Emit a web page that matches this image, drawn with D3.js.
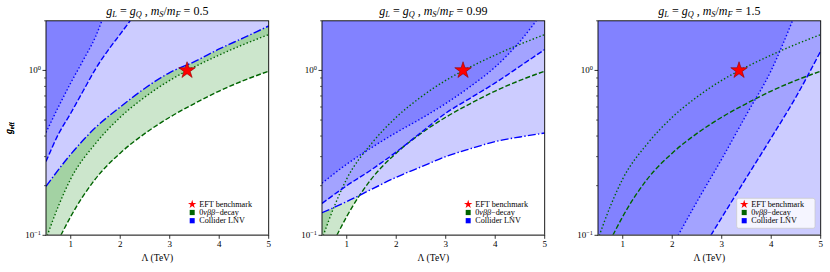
<!DOCTYPE html>
<html>
<head>
<meta charset="utf-8">
<script src="https://cdn.jsdelivr.net/npm/d3@7"></script>
<style>
  body { margin: 0; background: #fff; }
  svg text { font-family: "Liberation Serif", "DejaVu Serif", serif; fill: #000; }
</style>
</head>
<body>
<div id="fig"></div>
<script>
// ---- data ----
var massRatios = ["0.5", "0.99", "1.5"];
var xTickValues = [1, 2, 3, 4, 5];
var yMajorTicks = [0.1, 1];
var yMinorTicks = [0.2, 0.3, 0.4, 0.5, 0.6, 0.7, 0.8, 0.9, 2];
var benchmark = { lam: 3.35, g: 1.0 };

// 0vbb curves (same in all panels)
var dbdDottedLam = [0.5, 0.75, 1, 1.5, 2, 2.5, 3, 3.5, 4, 4.5, 5];
var dbdDottedG   = [0.095, 0.15, 0.22, 0.36, 0.52, 0.69, 0.87, 1.05, 1.24, 1.44, 1.65];
var dbdDashedLam = [0.8, 1, 1.5, 2, 2.5, 3, 3.5, 4, 4.5, 5];
var dbdDashedG   = [0.1, 0.13, 0.22, 0.315, 0.415, 0.52, 0.63, 0.75, 0.87, 0.99];

// collider curves, m_S/m_F = 0.5
var p1DottedLam  = [0.5, 0.75, 1, 1.25, 1.5, 1.63];
var p1DottedG    = [0.42, 0.6, 0.84, 1.15, 1.6, 2.0];
var p1DashedLam  = [0.5, 0.75, 1, 1.25, 1.5, 1.75, 2, 2.2];
var p1DashedG    = [0.28, 0.41, 0.55, 0.75, 1.02, 1.32, 1.66, 2.0];
var p1DashDotLam = [0.5, 1, 1.5, 2, 2.5, 3, 3.5, 4, 4.5, 5];
var p1DashDotG   = [0.198, 0.31, 0.45, 0.6, 0.78, 0.97, 1.13, 1.35, 1.58, 1.86];

// m_S/m_F = 0.99
var p2DottedLam  = [0.5, 1, 1.5, 2, 2.5, 3, 3.5, 4, 4.5, 4.83];
var p2DottedG    = [0.207, 0.27, 0.34, 0.42, 0.51, 0.63, 0.8, 1.05, 1.5, 2.0];
var p2DashedLam  = [0.5, 1, 1.5, 2, 2.5, 3, 3.5, 4, 4.5, 5];
var p2DashedG    = [0.156, 0.2, 0.25, 0.32, 0.42, 0.55, 0.68, 0.84, 1.06, 1.34];
var p2DashDotLam = [0.5, 1, 1.5, 2, 2.5, 3, 3.5, 4, 4.5, 5];
var p2DashDotG   = [0.137, 0.16, 0.19, 0.225, 0.26, 0.3, 0.335, 0.37, 0.395, 0.417];

// m_S/m_F = 1.5 (dash-dot lies below the plotted range)
var p3DottedLam  = [2.12, 2.5, 3, 3.5, 4, 4.43];
var p3DottedG    = [0.1, 0.16, 0.29, 0.54, 1.0, 2.0];
var p3DashedLam  = [2.78, 3, 3.5, 4, 4.5, 5];
var p3DashedG    = [0.1, 0.128, 0.224, 0.39, 0.69, 1.31];
var p3DashDotLam = [];
var p3DashDotG   = [];

var legendLabels = ["EFT benchmark", "0\u03bd\u03b2\u03b2\u2212decay", "Collider LNV"];

function zip(lam, g) { return lam.map(function (d, i) { return { lam: d, g: g[i] }; }); }

var panels = [
  { ratio: massRatios[0], dotted: zip(p1DottedLam, p1DottedG), dashed: zip(p1DashedLam, p1DashedG), dashdot: zip(p1DashDotLam, p1DashDotG), frame: false },
  { ratio: massRatios[1], dotted: zip(p2DottedLam, p2DottedG), dashed: zip(p2DashedLam, p2DashedG), dashdot: zip(p2DashDotLam, p2DashDotG), frame: false },
  { ratio: massRatios[2], dotted: zip(p3DottedLam, p3DottedG), dashed: zip(p3DashedLam, p3DashedG), dashdot: zip(p3DashDotLam, p3DashDotG), frame: true }
];
var dbdDotted = zip(dbdDottedLam, dbdDottedG);
var dbdDashed = zip(dbdDashedLam, dbdDashedG);

// ---- layout ----
var W = 830, H = 272;
var lefts = [46, 322, 598];
var pw = 222.7, plotTop = 20.8, plotBottom = 235.3;

var svg = d3.select("#fig").append("svg")
  .attr("width", W)
  .attr("height", H);

var blue = "#0000ff", green = "#006400";

panels.forEach(function (p, i) {

  var h = plotBottom - plotTop;
  var x = d3.scaleLinear().domain([0.5, 5]).range([0, pw]);
  var y = d3.scaleLog().domain([0.1, 2]).range([h, 0]);

  var g = svg.append("g").attr("transform", "translate(" + lefts[i] + "," + plotTop + ")");

  g.append("clipPath").attr("id", "clip" + i)
    .append("rect").attr("width", pw).attr("height", h);

  var plot = g.append("g").attr("clip-path", "url(#clip" + i + ")");

  var line = d3.line()
    .x(function (d) { return x(d.lam); })
    .y(function (d) { return y(d.g); })
    .curve(d3.curveMonotoneX);

  // region above/left of a curve
  function above(data) {
    if (data.length == 0)
      return "M" + x(0.5) + "," + y(0.1) + "L" + x(5) + "," + y(0.1) + "L" + x(5) + "," + y(2) + "L" + x(0.5) + "," + y(2) + "Z";
    var last = data[data.length - 1];
    return line(data) + "L" + x(last.lam) + "," + y(2) + "L" + x(0.5) + "," + y(2) + "L" + x(0.5) + "," + y(0.1) + "Z";
  }

  // green 0vbb bands
  plot.append("path").attr("d", above(dbdDashed)).attr("fill", "#008000").attr("fill-opacity", 0.2);
  plot.append("path").attr("d", above(dbdDotted)).attr("fill", "#008000").attr("fill-opacity", 0.2);

  // collider bands on top
  plot.append("path").attr("d", above(p.dashdot)).attr("fill", "#fff");
  [p.dashdot, p.dashed, p.dotted].forEach(function (c) {
    plot.append("path").attr("d", above(c)).attr("fill", blue).attr("fill-opacity", 0.2);
  });

  // lines
  var styles = [
    [dbdDotted, green, "1.4,2.2"],
    [dbdDashed, green, "5,2.2"],
    [p.dotted, blue, "1.4,2.2"],
    [p.dashed, blue, "5.5,2.2"],
    [p.dashdot, blue, "8,2.2,1.4,2.2"]
  ];
  styles.forEach(function (s) {
    if (s[0].length == 0) return;
    plot.append("path").datum(s[0])
      .attr("d", line)
      .attr("fill", "none")
      .attr("stroke", s[1])
      .attr("stroke-width", 1.4)
      .attr("stroke-dasharray", s[2]);
  });

  // benchmark star
  plot.append("path")
    .attr("d", d3.symbol().type(d3.symbolStar).size(85))
    .attr("transform", "translate(" + x(benchmark.lam) + "," + y(benchmark.g) + ")")
    .attr("fill", "#ff0000")
    .attr("stroke", "#8b0000")
    .attr("stroke-width", 0.6);

  // frame
  g.append("rect").attr("width", pw).attr("height", h)
    .attr("fill", "none").attr("stroke", "#000").attr("stroke-width", 0.9);
  g.append("line").attr("x1", 0).attr("x2", pw).attr("y1", h).attr("y2", h)
    .attr("stroke", "#666").attr("stroke-width", 1.6);

  // x axis
  xTickValues.forEach(function (t) {
    g.append("line").attr("x1", x(t)).attr("x2", x(t)).attr("y1", h).attr("y2", h + 3.5)
      .attr("stroke", "#000").attr("stroke-width", 0.8);
    g.append("text").attr("x", x(t)).attr("y", h + 11.5)
      .attr("text-anchor", "middle").style("font-size", "9px").text(t);
  });
  g.append("text").attr("x", pw / 2).attr("y", h + 25.5)
    .attr("text-anchor", "middle").style("font-size", "9.5px").text("\u039b (TeV)");

  // y axis
  yMajorTicks.forEach(function (t) {
    g.append("line").attr("x1", -3.5).attr("x2", 0).attr("y1", y(t)).attr("y2", y(t))
      .attr("stroke", "#000").attr("stroke-width", 0.8);
    var lab = g.append("text").attr("x", -5).attr("y", y(t) + 3)
      .attr("text-anchor", "end").style("font-size", "9px");
    lab.append("tspan").text("10");
    lab.append("tspan").attr("dy", -3.5).style("font-size", "6.3px").text(t == 1 ? "0" : "\u22121");
  });
  yMinorTicks.forEach(function (t) {
    g.append("line").attr("x1", -2).attr("x2", 0).attr("y1", y(t)).attr("y2", y(t))
      .attr("stroke", "#000").attr("stroke-width", 0.6);
  });
  var yl = g.append("text")
    .attr("transform", "translate(" + (12 - lefts[i]) + "," + (h / 2) + ") rotate(-90)")
    .attr("text-anchor", "middle").style("font-size", "9.5px");
  yl.append("tspan").style("font-style", "italic").text("g");
  yl.append("tspan").attr("dy", 2).style("font-size", "6.5px").text("eff");

  // title
  var tt = g.append("text").attr("x", pw / 2).attr("y", -6)
    .attr("text-anchor", "middle").style("font-size", "12px");
  function it(s) { tt.append("tspan").style("font-style", "italic").text(s); }
  function sub(s) { tt.append("tspan").attr("dy", 2).style("font-style", "italic").style("font-size", "8.3px").text(s); }
  function up(s) { tt.append("tspan").attr("dy", -2).text(s); }
  it("g"); sub("L"); up(" = "); it("g"); sub("Q"); up(" ,  ");
  it("m"); sub("S"); up("/"); it("m"); sub("F"); up(" = " + p.ratio);

  // legend
  var lg = g.append("g").attr("transform", "translate(" + (pw - 84) + "," + (h - 37) + ")");
  if (p.frame) {
    lg.append("rect").attr("width", 78.3).attr("height", 30).attr("rx", 2)
      .attr("fill", "#fff").attr("fill-opacity", 0.8)
      .attr("stroke", "#cccccc").attr("stroke-width", 0.8);
  }
  var rowY = [6, 14.2, 22.4];
  lg.append("path")
    .attr("d", d3.symbol().type(d3.symbolStar).size(22))
    .attr("transform", "translate(7.5," + rowY[0] + ")")
    .attr("fill", "#ff0000");
  lg.append("rect").attr("x", 5).attr("y", rowY[1] - 2.6).attr("width", 5).attr("height", 5.2).attr("fill", green);
  lg.append("rect").attr("x", 5).attr("y", rowY[2] - 2.6).attr("width", 5).attr("height", 5.2).attr("fill", blue);
  legendLabels.forEach(function (s, k) {
    var t = lg.append("text").attr("x", 14.5).attr("y", rowY[k] + 2.7).style("font-size", "8.2px");
    if (k == 1) {
      t.append("tspan").text("0");
      t.append("tspan").style("font-style", "italic").text("\u03bd\u03b2\u03b2");
      t.append("tspan").text("\u2212decay");
    } else {
      t.text(s);
    }
  });
});
</script>
</body>
</html>
